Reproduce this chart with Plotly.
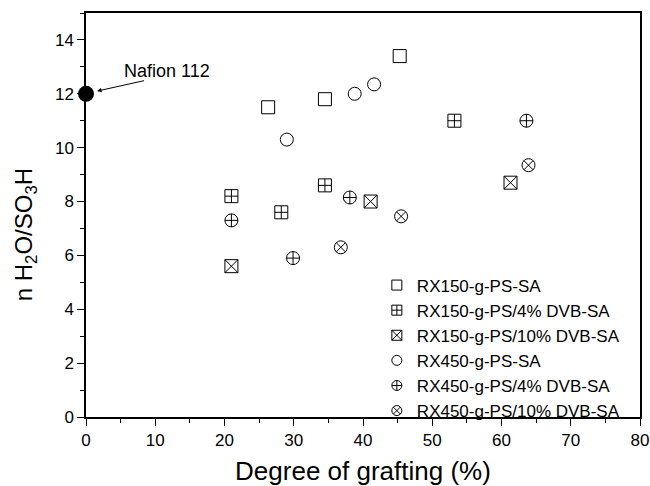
import plotly.graph_objects as go

# Data
names = ["RX150-g-PS-SA", "RX150-g-PS/4% DVB-SA", "RX150-g-PS/10% DVB-SA",
         "RX450-g-PS-SA", "RX450-g-PS/4% DVB-SA", "RX450-g-PS/10% DVB-SA"]
symbols = ["square-open", "square-cross-open", "square-x-open",
           "circle-open", "circle-cross-open", "circle-x-open"]

x_rx150 = [26.3, 34.5, 45.3]
y_rx150 = [11.5, 11.8, 13.4]
x_rx150_4 = [21.0, 28.2, 34.5, 53.2]
y_rx150_4 = [8.2, 7.6, 8.6, 11.0]
x_rx150_10 = [21.0, 41.1, 61.3]
y_rx150_10 = [5.6, 8.0, 8.7]
x_rx450 = [29.0, 38.8, 41.6]
y_rx450 = [10.3, 12.0, 12.35]
x_rx450_4 = [21.0, 29.9, 38.1, 63.6]
y_rx450_4 = [7.3, 5.9, 8.15, 11.0]
x_rx450_10 = [36.8, 45.5, 63.9]
y_rx450_10 = [6.3, 7.45, 9.35]

nafion_x = [0]
nafion_y = [12]
nafion_label = "Nafion 112"

x_title = "Degree of grafting (%)"
y_title = "n H<sub>2</sub>O/SO<sub>3</sub>H"

xs = [x_rx150, x_rx150_4, x_rx150_10, x_rx450, x_rx450_4, x_rx450_10]
ys = [y_rx150, y_rx150_4, y_rx150_10, y_rx450, y_rx450_4, y_rx450_10]

FONT = "Liberation Sans, Arial, sans-serif"

fig = go.Figure()
for n, s, x, y in zip(names, symbols, xs, ys):
    fig.add_trace(go.Scatter(
        x=x, y=y, mode="markers", name=n, showlegend=False, legendgroup=n,
        marker=dict(symbol=s, size=13, color="black", line=dict(color="black", width=1)),
        cliponaxis=False,
    ))
# legend entries (smaller symbols as in the reference)
for n, s in zip(names, symbols):
    fig.add_trace(go.Scatter(
        x=[None], y=[None], mode="markers", name=n, legendgroup=n,
        marker=dict(symbol=s, size=10, color="black", line=dict(color="black", width=1)),
    ))

fig.add_trace(go.Scatter(
    x=nafion_x, y=nafion_y, mode="markers", showlegend=False,
    marker=dict(symbol="circle", size=16, color="black"),
    cliponaxis=False,
))

fig.add_annotation(
    x=1.6, y=12.1, xref="x", yref="y",
    ax=8.6, ay=12.5, axref="x", ayref="y",
    text="", showarrow=True, arrowhead=2, arrowsize=0.9, arrowwidth=1, arrowcolor="black",
)
fig.add_annotation(
    x=11.7, y=12.85, xref="x", yref="y", text=nafion_label, showarrow=False,
    font=dict(size=18, color="black", family=FONT),
)
# y-axis title (placed like the reference, slightly below the axis centre)
fig.add_annotation(
    x=-0.110, y=0.45, xref="paper", yref="paper", text=y_title, textangle=-90,
    showarrow=False, xanchor="center", yanchor="middle",
    font=dict(size=24, color="black", family=FONT),
)

axis_common = dict(
    showgrid=False, zeroline=False, showline=True, linecolor="black", linewidth=1.5,
    mirror=True, ticks="outside", ticklen=7, tickwidth=1.3, tickcolor="black",
    tickfont=dict(size=17, color="black", family=FONT), automargin=False,
)

fig.update_layout(
    width=650, height=486,
    margin=dict(l=86, r=10, t=13, b=69),
    paper_bgcolor="white", plot_bgcolor="white",
    font=dict(family=FONT, color="black"),
    xaxis=dict(range=[0, 80], dtick=10, tick0=0,
               title=dict(text=x_title, font=dict(size=26), standoff=15),
               **axis_common),
    yaxis=dict(range=[0, 15], dtick=2, tick0=0, **axis_common),
    legend=dict(x=0.525, y=0.37, xanchor="left", yanchor="top",
                bgcolor="rgba(0,0,0,0)", borderwidth=0,
                font=dict(size=17, color="black", family=FONT), tracegroupgap=0),
)
fig.update_xaxes(minor=dict(dtick=5, ticks="outside", ticklen=4, tickwidth=1, tickcolor="black"))
fig.update_yaxes(minor=dict(dtick=1, ticks="outside", ticklen=4, tickwidth=1, tickcolor="black"))

fig.write_html("out.html")
